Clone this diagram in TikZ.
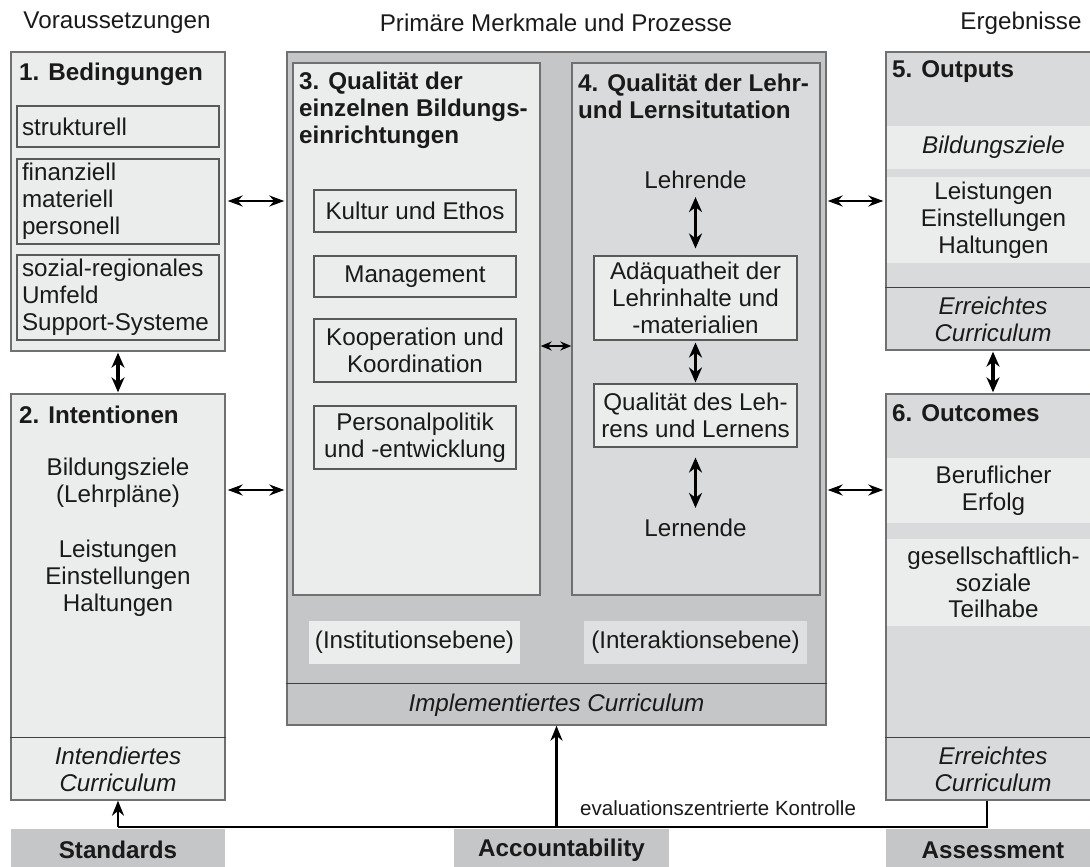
\documentclass[tikz,border=0pt]{standalone}
\usepackage{fontspec}
\setmainfont{Liberation Sans}
\usetikzlibrary{arrows.meta,calc,positioning}

\definecolor{paleGray}{HTML}{EBECEC}
\definecolor{midGray}{HTML}{D9DADB}
\definecolor{darkGray}{HTML}{C5C6C8}
\definecolor{levelGray}{HTML}{DFE0E1}
\definecolor{rimGray}{HTML}{707070}
\definecolor{inkGray}{HTML}{1A1A1A}

\begin{document}
\begin{tikzpicture}[x=1pt,y=-1pt]

% --------------------
% Parameters (tweak these)
% --------------------
\def\colW{214pt}   % side column width
\def\subW{202pt}   % inner box width
\def\fs{24.2}      % main font size
\def\bs{26.8}      % baseline skip

\tikzset{
  every node/.style={text=inkGray, font=\fontsize{\fs}{\bs}\selectfont, inner sep=0pt},
  panel/.style={draw=rimGray, line width=1.4pt, fill=#1, minimum width=\colW},
  panel/.default=paleGray,
  sub/.style={draw=black!65, line width=1.1pt, fill=paleGray, minimum width=\subW, align=center},
  leftsub/.style={sub, align=left, text width=192pt, inner xsep=5pt},
  band/.style={fill=paleGray, minimum width=213pt, align=center},
  foot/.style={fill=darkGray, minimum height=42pt, font=\fontsize{\fs}{\bs}\selectfont\bfseries},
  head/.style={font=\fontsize{\fs}{\bs}\selectfont\bfseries, align=left, anchor=west},
  cur/.style={font=\fontsize{\fs}{\bs}\selectfont\itshape, align=center},
  hdbl/.style={{Stealth[length=15pt,width=11pt]}-{Stealth[length=15pt,width=11pt]}, line width=2pt, black},
  vdbl/.style={{Stealth[length=15pt,width=13pt]}-{Stealth[length=15pt,width=13pt]}, line width=3.2pt, black},
  feed/.style={-{Stealth[length=15pt,width=12pt]}, line width=2.8pt, black},
  divider/.style={draw=black!75, line width=1.3pt}
}

\clip (0,0) rectangle (1090,867);

% --------------------
% Column headers
% --------------------
\node (hVor) at (117,23) {Voraussetzungen};
\node (hPri) at (556,23) {Primäre Merkmale und Prozesse};
\node (hErg) at (1021,23) {Ergebnisse};

% --------------------
% 1. Bedingungen
% --------------------
\node[panel, minimum height=299pt] (bed) at (118,201.5) {};
\node[head] (bedT) at (19,74) {1. Bedingungen};
\node[leftsub, minimum height=41pt] (bStr) at (118,126.5) {strukturell};
\node[leftsub, minimum height=85pt] (bFin) at (118,201.5) {finanziell\\materiell\\personell};
\node[leftsub, minimum height=85pt] (bSoz) at (118,297.5) {sozial-regionales\\Umfeld\\Support-Systeme};

% --------------------
% 2. Intentionen
% --------------------
\node[panel, minimum height=406pt] (intent) at (118,597) {};
\node[head] (intT) at (19,415) {2. Intentionen};
\node[align=center] (iZiel) at (118,482.5) {Bildungsziele\\(Lehrpläne)};
\node[align=center] (iLeis) at (118,578.5) {Leistungen\\Einstellungen\\Haltungen};
\draw[divider] ($(intent.south west)+(0,-63)$) -- ($(intent.south east)+(0,-63)$);
\node[cur] (iCur) at (118,769) {Intendiertes\\Curriculum};

% --------------------
% Primaere Merkmale und Prozesse
% --------------------
\node[panel=darkGray, minimum width=539pt, minimum height=673pt] (prim) at (556.5,388.5) {};

% 3. institution
\node[panel, minimum width=247pt, minimum height=532pt] (inst) at (416.5,329) {};
\node[head] (instT) at (299,110) {3. Qualität der\\einzelnen Bildungs-\\einrichtungen};
\node[sub, minimum height=42pt] (kultur) at (415,211) {Kultur und Ethos};
\node[sub, minimum height=41pt] (manag) at (415,276.5) {Management};
\node[sub, minimum height=63pt] (koop) at (415,350.5) {Kooperation und\\Koordination};
\node[sub, minimum height=63pt] (perso) at (415,437.5) {Personalpolitik\\und -entwicklung};

% 4. teaching situation
\node[panel=midGray, minimum width=248pt, minimum height=532pt] (lehr) at (696,329) {};
\node[head] (lehrT) at (578,96.5) {4. Qualität der Lehr-\\und Lernsitutation};
\node (lehrende) at (695.5,180) {Lehrende};
\node[sub, minimum width=203pt, minimum height=84pt] (adq) at (695.5,298) {Adäquatheit der\\Lehrinhalte und\\-materialien};
\node[sub, minimum width=203pt, minimum height=63pt] (qual) at (695.5,415.5) {Qualität des Leh-\\rens und Lernens};
\node (lernende) at (695.5,528) {Lernende};

% levels
\node[fill=paleGray, minimum width=211pt, minimum height=43pt] (ebInst) at (414.5,642.5) {(Institutionsebene)};
\node[fill=levelGray, minimum width=223pt, minimum height=43pt] (ebInter) at (695.5,642.5) {(Interaktionsebene)};
\draw[divider] ($(prim.south west)+(0,-42)$) -- ($(prim.south east)+(0,-42)$);
\node[cur] (pCur) at (556.5,705) {Implementiertes Curriculum};

% --------------------
% 5. Outputs
% --------------------
\node[panel=midGray, minimum height=298pt] (outp) at (993,201) {};
\node[head] (outpT) at (892,72) {5. Outputs};
\node[band, minimum height=43pt, font=\fontsize{\fs}{\bs}\selectfont\itshape] (oZiel) at (993.5,147.5) {Bildungsziele};
\node[band, minimum height=86pt] (oLeis) at (993.5,220) {Leistungen\\Einstellungen\\Haltungen};
\draw[divider] ($(outp.south west)+(0,-63)$) -- ($(outp.south east)+(0,-63)$);
\node[cur] (oCur) at (993,319) {Erreichtes\\Curriculum};

% --------------------
% 6. Outcomes
% --------------------
\node[panel=midGray, minimum height=406pt] (outc) at (993,597) {};
\node[head] (outcT) at (892,413) {6. Outcomes};
\node[band, minimum height=65pt] (cBer) at (993.5,490.5) {Beruflicher\\Erfolg};
\node[band, minimum height=87pt] (cGes) at (993.5,582.5) {gesellschaftlich-\\soziale\\Teilhabe};
\draw[divider] ($(outc.south west)+(0,-63)$) -- ($(outc.south east)+(0,-63)$);
\node[cur] (cCur) at (993,769) {Erreichtes\\Curriculum};

% --------------------
% Bottom labels
% --------------------
\node[foot, minimum width=214pt] (std) at (118,850) {Standards};
\node[foot, minimum width=215pt] (acc) at (561.5,850) {Accountability};
\node[foot, minimum width=214pt] (ass) at (993,850) {Assessment};
\node[anchor=west, font=\fontsize{20.5}{24}\selectfont] (kontr) at (580,808) {evaluationszentrierte Kontrolle};

% --------------------
% Arrows
% --------------------
\coordinate (yTop) at (0,201);
\coordinate (yLow) at (0,490);
\coordinate (yMid) at (0,346);
\coordinate (yBase) at (0,827);
\coordinate (xAss) at (987,0);

\draw[hdbl, shorten <=2pt, shorten >=2pt] (bed.east |- yTop) -- (prim.west |- yTop);
\draw[hdbl, shorten <=2pt, shorten >=2pt] (intent.east |- yLow) -- (prim.west |- yLow);
\draw[hdbl, shorten <=1pt, shorten >=2pt] (prim.east |- yTop) -- (outp.west |- yTop);
\draw[hdbl, shorten <=1pt, shorten >=2pt] (prim.east |- yLow) -- (outc.west |- yLow);
\draw[{Stealth[length=11pt,width=9pt]}-{Stealth[length=11pt,width=9pt]}, line width=1.8pt] (inst.east |- yMid) -- (lehr.west |- yMid);

\draw[vdbl, shorten <=1pt, shorten >=1pt] (bed.south) -- (intent.north);
\draw[vdbl, shorten <=1pt, shorten >=1pt] (outp.south) -- (outc.north);
\draw[vdbl, shorten <=8pt, shorten >=7pt] (lehrende) -- (adq);
\draw[vdbl, shorten <=2pt, shorten >=1pt] (adq) -- (qual);
\draw[vdbl, shorten <=10pt, shorten >=11pt] (qual) -- (lernende);

\draw[line width=2.6pt] (intent.south |- yBase) -- (xAss |- yBase) -- (xAss |- outc.south);
\draw[feed] (intent.south |- yBase) -- (intent.south);
\draw[feed] (prim.south |- yBase) -- (prim.south);

\end{tikzpicture}
\end{document}
